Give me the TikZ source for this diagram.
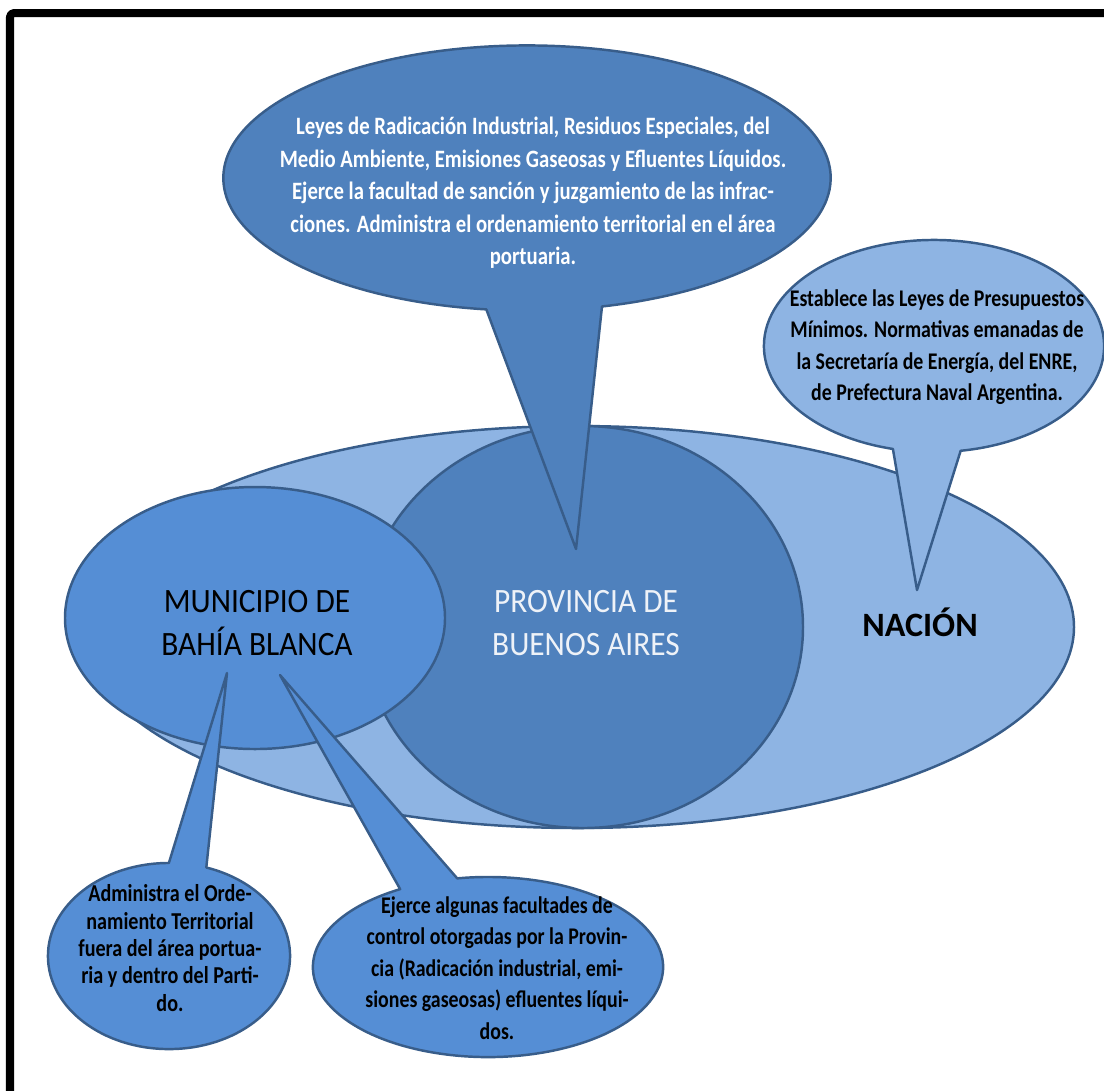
\documentclass[tikz,border=0pt]{standalone}
\usepackage{fontspec}
\setmainfont{Carlito}
\newfontfamily\labelfont[FakeStretch=0.92]{Carlito}
\newfontfamily\narrowfont[FakeStretch=0.83]{Carlito}
\usepackage{tikz}
\usetikzlibrary{shapes.callouts}
\definecolor{nacionblue}{HTML}{8EB4E3}
\definecolor{provblue}{HTML}{4F81BD}
\definecolor{munblue}{HTML}{558ED5}
\definecolor{edgeblue}{HTML}{385D8A}
\definecolor{paletext}{HTML}{EEF2F8}

\begin{document}
\begin{tikzpicture}[x=0.01cm, y=-0.01cm, line join=round]
    \tikzstyle{region}=[draw=edgeblue, line width=0.7pt]
    \tikzstyle{bubble}=[ellipse callout, draw=edgeblue, line width=0.7pt, inner sep=0pt]
    \tikzstyle{bigtext}=[align=center, font=\labelfont\fontsize{9.7}{12.2}\selectfont]
    \tikzstyle{smalltext}=[align=center, font=\narrowfont\bfseries\fontsize{6.8}{8.9}\selectfont]

    \useasboundingbox (0,0) rectangle (1104,1090);
    \draw[line width=0.08cm, rounded corners=0.04cm] (10,1110) -- (10,13) -- (1120,13);

    % the three levels
    \draw[region, fill=nacionblue] (577,627) ellipse [x radius=497, y radius=201];
    \draw[region, fill=provblue] (583,627) ellipse [x radius=220, y radius=201];
    \draw[region, fill=munblue] (255,618) ellipse [x radius=190, y radius=131];

    % callouts
    \node[bubble, fill=provblue, minimum width=6.07cm, minimum height=2.65cm,
          callout absolute pointer={(576,549)}, callout pointer arc=22] (provcall) at (527,178) {};
    \node[bubble, fill=nacionblue, minimum width=3.40cm, minimum height=2.12cm,
          callout absolute pointer={(917,590)}, callout pointer arc=23] (naccall) at (934,346) {};
    \node[bubble, fill=munblue, minimum width=2.42cm, minimum height=1.86cm,
          callout absolute pointer={(227,673)}, callout pointer arc=18] (muncallA) at (169,956) {};
    \node[bubble, fill=munblue, minimum width=3.50cm, minimum height=1.80cm,
          callout absolute pointer={(280,675)}, callout pointer arc=20] (muncallB) at (488,967) {};

    \node[bigtext] (muntext) at (257,623) {MUNICIPIO DE\\BAHÍA BLANCA};
    \node[bigtext, text=paletext] (provtext) at (586,623) {PROVINCIA DE\\BUENOS AIRES};
    \node[bigtext, font=\bfseries\fontsize{9.7}{12.2}\selectfont] (nactext) at (920,622) {NACIÓN};

    \node[smalltext, text=white, font=\narrowfont\bfseries\fontsize{7.1}{9.25}\selectfont] (provnote) at (533,193)
        {Leyes de Radicación Industrial, Residuos Especiales, del\\
         Medio Ambiente, Emisiones Gaseosas y Efluentes Líquidos.\\
         Ejerce la facultad de sanción y juzgamiento de las infrac-\\
         ciones. Administra el ordenamiento territorial en el área\\
         portuaria.};
    \node[smalltext] (nacnote) at (937,347)
        {Establece las Leyes de Presupuestos\\
         Mínimos. Normativas emanadas de\\
         la Secretaría de Energía, del ENRE,\\
         de Prefectura Naval Argentina.};
    \node[smalltext, font=\narrowfont\bfseries\fontsize{6.9}{7.8}\selectfont] (munnoteA) at (170,948)
        {Administra el Orde-\\
         namiento Territorial\\
         fuera del área portua-\\
         ria y dentro del Parti-\\
         do.};
    \node[smalltext, font=\narrowfont\bfseries\fontsize{6.8}{9.0}\selectfont] (munnoteB) at (497,968)
        {Ejerce algunas facultades de\\
         control otorgadas por la Provin-\\
         cia (Radicación industrial, emi-\\
         siones gaseosas) efluentes líqui-\\
         dos.};
\end{tikzpicture}
\end{document}
